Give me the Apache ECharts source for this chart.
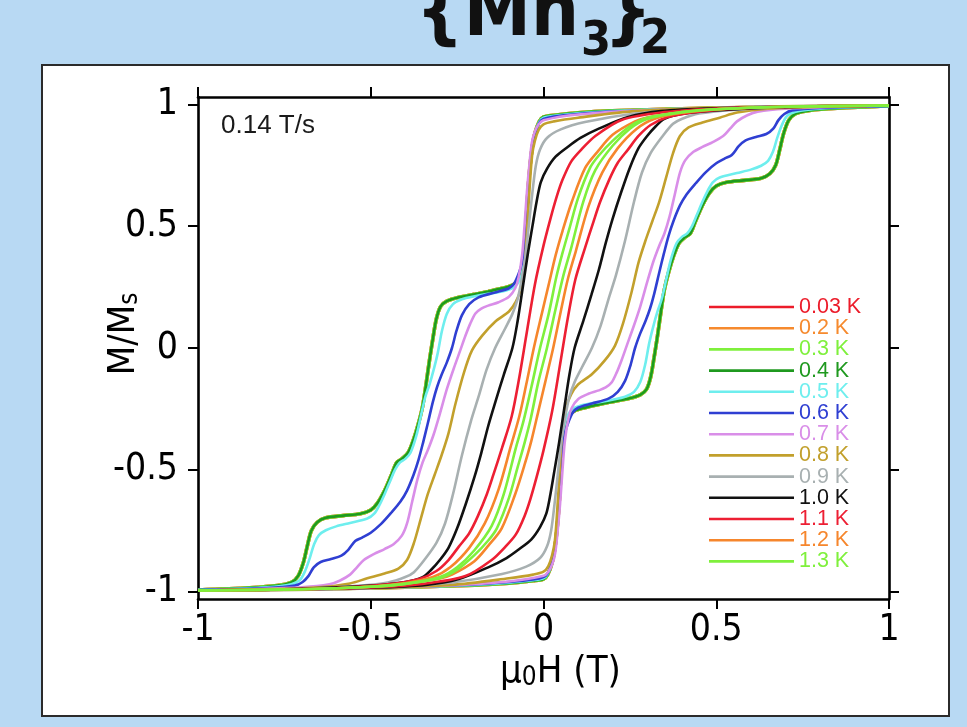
<!DOCTYPE html>
<html>
<head>
<meta charset="utf-8">
<title>{Mn3}2 hysteresis</title>
<script src="https://cdn.jsdelivr.net/npm/echarts@6.0.0/dist/echarts.min.js"></script>
<style>
  html, body { margin: 0; padding: 0; background: #b8d9f3; }
  #chart { width: 967px; height: 727px; }
</style>
</head>
<body>
<div id="chart"></div>
<script>
// temperatures shown in the legend, top to bottom
var temps = ['0.03 K', '0.2 K', '0.3 K', '0.4 K', '0.5 K', '0.6 K', '0.7 K',
             '0.8 K', '0.9 K', '1.0 K', '1.1 K', '1.2 K', '1.3 K'];
var colors = ['#ec1c2a', '#f68a2e', '#7ff03c', '#1f991f', '#6eeeee', '#2f3fd2', '#d98ee8',
              '#c2a02c', '#a8b0b1', '#111111', '#ed1f33', '#f6862c', '#7ff03c'];
var xTicks = [-1, -0.5, 0, 0.5, 1];
var yTicks = [-1, -0.5, 0, 0.5, 1];

// field sweep up (-1 T -> +1 T), [mu0H, M/Ms]
// the four coldest curves lie on top of each other
var upLowT = [[-1,-0.994],[-0.8,-0.991],[-0.6,-0.987],[-0.4,-0.982],[-0.2,-0.973],[-0.1,-0.965],[-0.03,-0.955],[0,-0.948],
  [0.012,-0.93],[0.025,-0.88],[0.033,-0.82],[0.04,-0.73],[0.046,-0.62],[0.051,-0.5],[0.056,-0.38],[0.063,-0.31],[0.075,-0.275],
  [0.09,-0.258],[0.12,-0.245],[0.16,-0.232],[0.2,-0.22],[0.25,-0.206],[0.28,-0.192],[0.298,-0.17],[0.31,-0.12],[0.32,-0.04],
  [0.33,0.05],[0.34,0.15],[0.35,0.24],[0.362,0.31],[0.376,0.375],[0.392,0.43],[0.41,0.455],[0.425,0.47],[0.44,0.52],[0.46,0.585],
  [0.48,0.635],[0.5,0.665],[0.53,0.68],[0.58,0.688],[0.63,0.697],[0.655,0.715],[0.672,0.75],[0.684,0.815],[0.695,0.88],
  [0.71,0.935],[0.73,0.962],[0.77,0.975],[0.85,0.984],[1,0.993]];
var up05 = [[-1,-0.994],[-0.8,-0.991],[-0.6,-0.987],[-0.4,-0.982],[-0.2,-0.972],[-0.1,-0.963],[-0.03,-0.953],[0,-0.945],
  [0.012,-0.928],[0.025,-0.88],[0.033,-0.82],[0.04,-0.73],[0.046,-0.61],[0.051,-0.49],[0.056,-0.37],[0.063,-0.3],[0.075,-0.265],
  [0.091,-0.245],[0.12,-0.232],[0.16,-0.222],[0.2,-0.212],[0.236,-0.2],[0.262,-0.18],[0.28,-0.14],[0.294,-0.07],[0.306,0.02],
  [0.318,0.09],[0.33,0.15],[0.342,0.2],[0.355,0.28],[0.368,0.36],[0.385,0.43],[0.4,0.455],[0.416,0.47],[0.43,0.5],[0.445,0.55],
  [0.46,0.6],[0.475,0.645],[0.49,0.68],[0.51,0.7],[0.56,0.718],[0.6,0.732],[0.63,0.748],[0.65,0.768],[0.664,0.805],[0.676,0.86],
  [0.69,0.915],[0.705,0.952],[0.73,0.97],[0.8,0.982],[1,0.993]];
var up06 = [[-1,-0.994],[-0.8,-0.991],[-0.6,-0.987],[-0.4,-0.98],[-0.2,-0.97],[-0.1,-0.96],[-0.03,-0.95],[0,-0.94],
  [0.012,-0.925],[0.025,-0.88],[0.033,-0.83],[0.039,-0.74],[0.045,-0.62],[0.05,-0.5],[0.055,-0.41],[0.062,-0.35],[0.072,-0.305],
  [0.085,-0.265],[0.1,-0.245],[0.14,-0.228],[0.188,-0.208],[0.215,-0.18],[0.236,-0.135],[0.252,-0.07],[0.265,0],[0.28,0.06],
  [0.295,0.11],[0.308,0.16],[0.32,0.22],[0.335,0.31],[0.348,0.385],[0.362,0.46],[0.376,0.52],[0.395,0.585],[0.414,0.63],
  [0.44,0.675],[0.47,0.722],[0.5,0.758],[0.525,0.778],[0.545,0.792],[0.565,0.828],[0.585,0.852],[0.615,0.866],[0.645,0.878],
  [0.665,0.9],[0.68,0.935],[0.697,0.96],[0.72,0.975],[0.8,0.985],[1,0.993]];
var up07 = [[-1,-0.995],[-0.8,-0.992],[-0.6,-0.988],[-0.3,-0.976],[-0.1,-0.958],[0,-0.935],[0.014,-0.918],[0.026,-0.885],
  [0.034,-0.84],[0.041,-0.75],[0.048,-0.64],[0.055,-0.5],[0.062,-0.38],[0.072,-0.29],[0.082,-0.245],[0.1,-0.21],[0.13,-0.188],
  [0.16,-0.174],[0.18,-0.162],[0.197,-0.142],[0.212,-0.1],[0.226,-0.05],[0.241,0.01],[0.26,0.085],[0.28,0.17],[0.3,0.27],
  [0.318,0.355],[0.335,0.42],[0.35,0.47],[0.365,0.54],[0.38,0.63],[0.395,0.72],[0.41,0.77],[0.434,0.805],[0.46,0.825],
  [0.49,0.845],[0.52,0.87],[0.54,0.9],[0.56,0.93],[0.59,0.955],[0.62,0.97],[0.7,0.982],[0.85,0.99],[1,0.995]];
var up08 = [[-1,-0.995],[-0.8,-0.993],[-0.6,-0.99],[-0.265,-0.972],[-0.1,-0.945],[-0.03,-0.93],[0,-0.918],[0.014,-0.895],
  [0.025,-0.85],[0.033,-0.79],[0.04,-0.66],[0.047,-0.5],[0.055,-0.33],[0.065,-0.245],[0.08,-0.19],[0.1,-0.15],[0.14,-0.108],
  [0.178,-0.05],[0.207,0.01],[0.23,0.1],[0.255,0.23],[0.275,0.35],[0.295,0.44],[0.315,0.52],[0.335,0.6],[0.355,0.7],
  [0.375,0.8],[0.395,0.87],[0.42,0.905],[0.46,0.925],[0.51,0.945],[0.56,0.966],[0.65,0.982],[0.8,0.99],[1,0.995]];
var up09 = [[-1,-0.995],[-0.6,-0.99],[-0.4,-0.977],[-0.265,-0.962],[-0.12,-0.927],[-0.05,-0.897],[-0.01,-0.862],[0.01,-0.815],
  [0.022,-0.75],[0.032,-0.64],[0.042,-0.51],[0.052,-0.38],[0.062,-0.29],[0.075,-0.2],[0.09,-0.14],[0.111,-0.08],[0.14,0],
  [0.165,0.09],[0.188,0.2],[0.21,0.3],[0.236,0.44],[0.262,0.6],[0.285,0.72],[0.31,0.8],[0.345,0.87],[0.375,0.92],[0.4,0.94],
  [0.45,0.962],[0.55,0.977],[0.7,0.988],[1,0.995]];
var up10 = [[-1,-0.995],[-0.7,-0.99],[-0.5,-0.984],[-0.34,-0.972],[-0.245,-0.948],[-0.16,-0.9],[-0.107,-0.862],[-0.07,-0.825],
  [-0.035,-0.785],[-0.01,-0.735],[0.008,-0.68],[0.02,-0.6],[0.032,-0.5],[0.045,-0.39],[0.062,-0.23],[0.075,-0.11],[0.09,0],
  [0.115,0.11],[0.139,0.22],[0.16,0.32],[0.18,0.43],[0.2,0.53],[0.225,0.64],[0.25,0.74],[0.275,0.82],[0.3,0.87],[0.325,0.91],
  [0.35,0.94],[0.4,0.96],[0.5,0.975],[0.7,0.988],[1,0.995]];
var up11 = [[-1,-0.995],[-0.7,-0.99],[-0.5,-0.983],[-0.35,-0.968],[-0.226,-0.936],[-0.15,-0.87],[-0.11,-0.815],[-0.08,-0.765],
  [-0.055,-0.69],[-0.038,-0.62],[-0.02,-0.53],[0,-0.42],[0.025,-0.26],[0.05,-0.05],[0.07,0.12],[0.092,0.28],[0.12,0.41],
  [0.145,0.52],[0.164,0.6],[0.19,0.69],[0.215,0.76],[0.245,0.815],[0.275,0.87],[0.31,0.915],[0.36,0.948],[0.45,0.97],
  [0.6,0.985],[1,0.995]];
var up12 = [[-1,-0.995],[-0.7,-0.99],[-0.5,-0.98],[-0.4,-0.966],[-0.3,-0.946],[-0.265,-0.93],[-0.2,-0.875],[-0.159,-0.81],
  [-0.121,-0.74],[-0.082,-0.6],[-0.055,-0.48],[-0.035,-0.38],[-0.015,-0.26],[0.005,-0.14],[0.028,0],[0.05,0.15],[0.07,0.28],
  [0.094,0.4],[0.13,0.58],[0.17,0.72],[0.215,0.82],[0.27,0.9],[0.32,0.94],[0.4,0.965],[0.5,0.98],[0.7,0.99],[1,0.995]];
var up13 = [[-1,-0.995],[-0.7,-0.99],[-0.5,-0.98],[-0.4,-0.968],[-0.3,-0.945],[-0.25,-0.91],[-0.2,-0.85],[-0.16,-0.79],
  [-0.135,-0.74],[-0.1,-0.615],[-0.075,-0.49],[-0.055,-0.39],[-0.037,-0.29],[-0.015,-0.14],[0.01,0],[0.035,0.16],[0.058,0.3],
  [0.08,0.41],[0.115,0.6],[0.15,0.73],[0.2,0.83],[0.25,0.9],[0.3,0.94],[0.4,0.968],[0.5,0.98],[0.7,0.99],[1,0.995]];

var upBranches = [upLowT, upLowT, upLowT, upLowT, up05, up06, up07, up08, up09, up10, up11, up12, up13];

var COND = '"DejaVu Sans Condensed", "DejaVu Sans", sans-serif';
var PLAIN = '"Liberation Sans", Arial, sans-serif';

// the sweep down is the point reflection of the sweep up
function mirror(branch) {
  return branch.map(function (p) { return [-p[0], -p[1]]; }).reverse();
}

var series = [];
upBranches.forEach(function (up, i) {
  var w = i < 3 ? 3.6 : 2.6;
  [up, mirror(up)].forEach(function (branch) {
    series.push({
      name: temps[i],
      type: 'line',
      data: branch,
      symbol: 'none',
      smooth: 0.3,
      lineStyle: { color: colors[i], width: w },
      itemStyle: { color: colors[i] },
      emphasis: { disabled: true }
    });
  });
});

function frameAxis(pos, labels) {
  return {
    type: 'value',
    position: pos,
    axisLine: { show: true, onZero: false, lineStyle: { color: '#000', width: 2.6 } },
    axisTick: { show: true, inside: false, length: 10, lineStyle: { color: '#000', width: 2 } },
    axisLabel: { show: labels, color: '#000', fontSize: 37, fontFamily: COND },
    splitLine: { show: false }
  };
}

var nameRich = {
  m: { fontSize: 38, fontFamily: COND, color: '#000', verticalAlign: 'bottom' },
  s: { fontSize: 26, fontFamily: COND, color: '#000', verticalAlign: 'bottom', lineHeight: 28 }
};

var xBottom = frameAxis('bottom', true);
xBottom.min = -1; xBottom.max = 1; xBottom.interval = 0.5;
xBottom.axisLabel.margin = 13;
xBottom.name = '{m|μ}{s|0}{m|H (T)}';
xBottom.nameLocation = 'middle';
xBottom.nameGap = 54;
xBottom.nameMoveOverlap = false;
xBottom.nameTextStyle = { padding: [0, 0, 0, 34], rich: nameRich };
var xTop = frameAxis('top', false);
xTop.min = -1; xTop.max = 1; xTop.interval = 0.5;

var yLeft = frameAxis('left', true);
yLeft.min = -1.03; yLeft.max = 1.03;
yLeft.axisTick.customValues = yTicks;
yLeft.axisLabel.customValues = yTicks;
yLeft.axisLabel.margin = 20;
yLeft.name = '{m|M/M}{s|s}';
yLeft.nameLocation = 'middle';
yLeft.nameRotate = 90;
yLeft.nameGap = 55;
yLeft.nameMoveOverlap = false;
yLeft.nameTextStyle = { padding: [0, 0, 0, 28], rich: nameRich };
var yRight = frameAxis('right', false);
yRight.min = -1.03; yRight.max = 1.03;
yRight.axisTick.customValues = yTicks;

// legend labels use rich text, one colour per temperature
var legendRich = {};
colors.forEach(function (c, i) {
  legendRich['t' + i] = { color: c, fontSize: 21.5, fontFamily: PLAIN };
});

var chart = echarts.init(document.getElementById('chart'));
chart.setOption({
  animation: false,
  backgroundColor: 'transparent',
  grid: { left: 198, right: 78, top: 97, bottom: 128, containLabel: false, outerBoundsMode: 'none' },
  xAxis: [xBottom, xTop],
  yAxis: [yLeft, yRight],
  legend: {
    orient: 'vertical',
    left: 709,
    top: 296,
    padding: 0,
    icon: 'rect',
    itemWidth: 85,
    itemHeight: 2.6,
    itemGap: -0.8,
    selectedMode: false,
    textStyle: { fontSize: 21.5, fontFamily: PLAIN, rich: legendRich },
    formatter: function (name) {
      return '{t' + temps.indexOf(name) + '|' + name + '}';
    },
    data: temps
  },
  graphic: [
    { type: 'rect', z: -100, silent: true,
      shape: { x: 42, y: 65, width: 907, height: 651 },
      style: { fill: '#ffffff', stroke: '#2b2b2b', lineWidth: 2 } },
    { type: 'text', x: 579, y: 16, silent: true,
      style: { text: '{Mn', font: 'bold 75px ' + COND, fill: '#111', align: 'right', verticalAlign: 'middle' } },
    { type: 'text', x: 581, y: 43, silent: true,
      style: { text: '3', font: 'bold 48px ' + COND, fill: '#111', align: 'left', verticalAlign: 'middle' } },
    { type: 'text', x: 604, y: 16, silent: true,
      style: { text: '}', font: 'bold 75px ' + COND, fill: '#111', align: 'left', verticalAlign: 'middle' } },
    { type: 'text', x: 640, y: 41, silent: true,
      style: { text: '2', font: 'bold 48px ' + COND, fill: '#111', align: 'left', verticalAlign: 'middle' } },
    { type: 'text', x: 221, y: 126, silent: true,
      style: { text: '0.14 T/s', font: '26px ' + PLAIN, fill: '#1a1a1a', align: 'left', verticalAlign: 'middle' } }
  ],
  series: series
});
</script>
</body>
</html>
